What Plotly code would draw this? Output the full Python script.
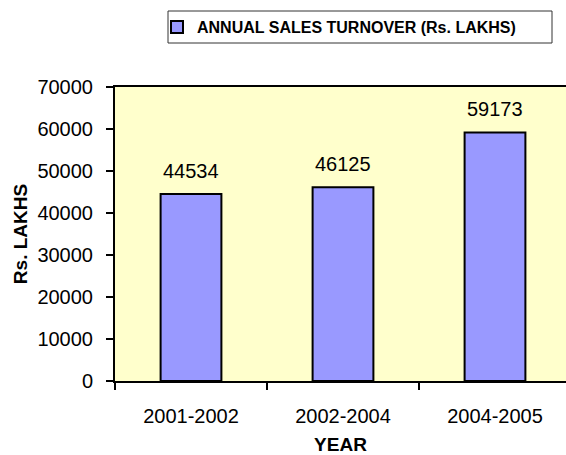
import plotly.graph_objects as go

years = ["2001-2002", "2002-2004", "2004-2005"]
turnover = [44534, 46125, 59173]
series_name = "ANNUAL SALES TURNOVER (Rs. LAKHS)"
y_ticks = [0, 10000, 20000, 30000, 40000, 50000, 60000, 70000]

FONT = "Liberation Sans, Arial, sans-serif"

W, H = 566, 455
L, R, T, B = 115, 0, 87, 74
pw = W - L - R
ph = H - T - B
cat_px = 152.0
x_range = [-0.5, -0.5 + pw / cat_px]

def px_x(p):
    return (p - L) / pw

def px_y(p):
    return (H - B - p) / ph

fig = go.Figure()
fig.add_trace(go.Bar(
    x=years, y=turnover, name=series_name, width=0.4,
    marker=dict(color="#9999FF", line=dict(color="black", width=2)),
    showlegend=True,
))

for yr, v in zip(years, turnover):
    fig.add_annotation(x=yr, y=v, text=str(v), showarrow=False,
                       yanchor="bottom", yshift=10,
                       font=dict(family=FONT, size=20, color="black"))

# legend frame
fig.add_shape(type="rect", xref="paper", yref="paper",
              x0=px_x(168), x1=px_x(552), y0=px_y(43), y1=px_y(11),
              line=dict(color="#333333", width=1), fillcolor="white", layer="below")

fig.update_layout(
    width=W, height=H,
    margin=dict(l=L, r=R, t=T, b=B, pad=0, autoexpand=False),
    paper_bgcolor="white", plot_bgcolor="#FFFFCC",
    font=dict(family=FONT, size=20, color="black"),
    showlegend=True,
    legend=dict(x=px_x(157), xanchor="left", y=px_y(27), yanchor="middle",
                bgcolor="rgba(0,0,0,0)", borderwidth=0,
                font=dict(family=FONT, size=16, color="black", weight="bold")),
    bargap=0.6,
)
fig.update_xaxes(
    range=x_range, type="category", tickson="boundaries", automargin=False,
    ticks="outside", ticklen=7, tickwidth=1.5, tickcolor="black",
    showline=True, linecolor="black", linewidth=2, mirror=True,
    showgrid=False, tickfont=dict(size=20), ticklabelstandoff=16,
    title=dict(text="<b>YEAR</b>", font=dict(size=19), standoff=12),
)
fig.update_yaxes(
    range=[0, 70000], tickvals=y_ticks, ticktext=[str(t) for t in y_ticks],
    automargin=False,
    ticks="outside", ticklen=7, tickwidth=1.5, tickcolor="black",
    showline=True, linecolor="black", linewidth=2,
    showgrid=False, zeroline=False, tickfont=dict(size=20), ticklabelstandoff=9,
    title=dict(text="<b>Rs. LAKHS</b>", font=dict(size=19), standoff=5),
)

fig.write_html(
    "out.html",
    config={"displayModeBar": False},
    post_script="document.body.style.margin='0';document.body.style.overflow='hidden';",
)
